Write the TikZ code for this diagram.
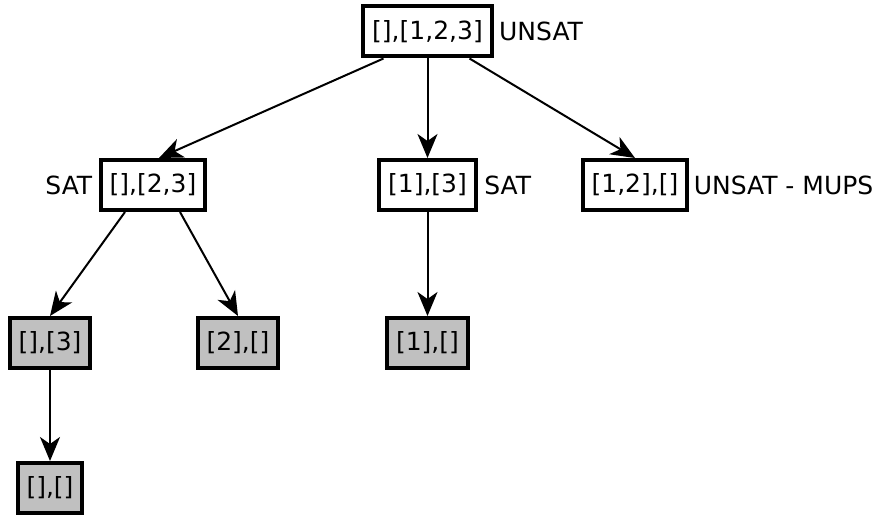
\documentclass[tikz,border=0pt]{standalone}
\usepackage{fontspec}
\setmainfont{DejaVu Sans}
\usetikzlibrary{arrows.meta,positioning}
\definecolor{leafgray}{RGB}{192, 192, 192}

\begin{document}
\begin{tikzpicture}[x=0.5pt, y=-0.5pt, >={Stealth[length=12pt,width=10pt,inset=3.5pt]},
    setbox/.style={draw, line width=2pt, fill=white, minimum height=25pt, inner xsep=4.5pt, font=\fontsize{12.5}{15}\selectfont},
    leafbox/.style={setbox, fill=leafgray},
    result/.style={inner sep=0pt, font=\fontsize{12.5}{15}\selectfont},
    arr/.style={->, line width=1pt}]
    \useasboundingbox (0, 0) rectangle (875, 519);

    % Root of the search tree
    \node[setbox] (root) at (427.5, 31.5) {[],[1,2,3]};
    \node[result, right=2.5pt of root] (rootres) {UNSAT};

    % Second level
    \node[setbox] (n1) at (153, 185) {[],[2,3]};
    \node[result, left=3pt of n1] (n1res) {SAT};
    \node[setbox] (n2) at (427.5, 185) {[1],[3]};
    \node[result, right=3pt of n2] (n2res) {SAT};
    \node[setbox] (n3) at (635, 185) {[1,2],[]};
    \node[result, right=2pt of n3] (n3res) {UNSAT - MUPS};

    % Third level (leaves)
    \node[leafbox] (n4) at (50, 343) {[],[3]};
    \node[leafbox] (n5) at (238, 343) {[2],[]};
    \node[leafbox] (n6) at (427.5, 343) {[1],[]};

    % Fourth level
    \node[leafbox] (n7) at (50, 488) {[],[]};

    % Edges
    \draw[arr] ([xshift=-22pt]root.south) -- ([xshift=3pt]n1.north);
    \draw[arr] (root.south) -- (n2.north);
    \draw[arr] ([xshift=21pt]root.south) -- (n3.north);
    \draw[arr] ([xshift=-14pt]n1.south) -- (n4.north);
    \draw[arr] ([xshift=13.5pt]n1.south) -- (n5.north);
    \draw[arr] (n2.south) -- (n6.north);
    \draw[arr] (n4.south) -- (n7.north);
\end{tikzpicture}
\end{document}
